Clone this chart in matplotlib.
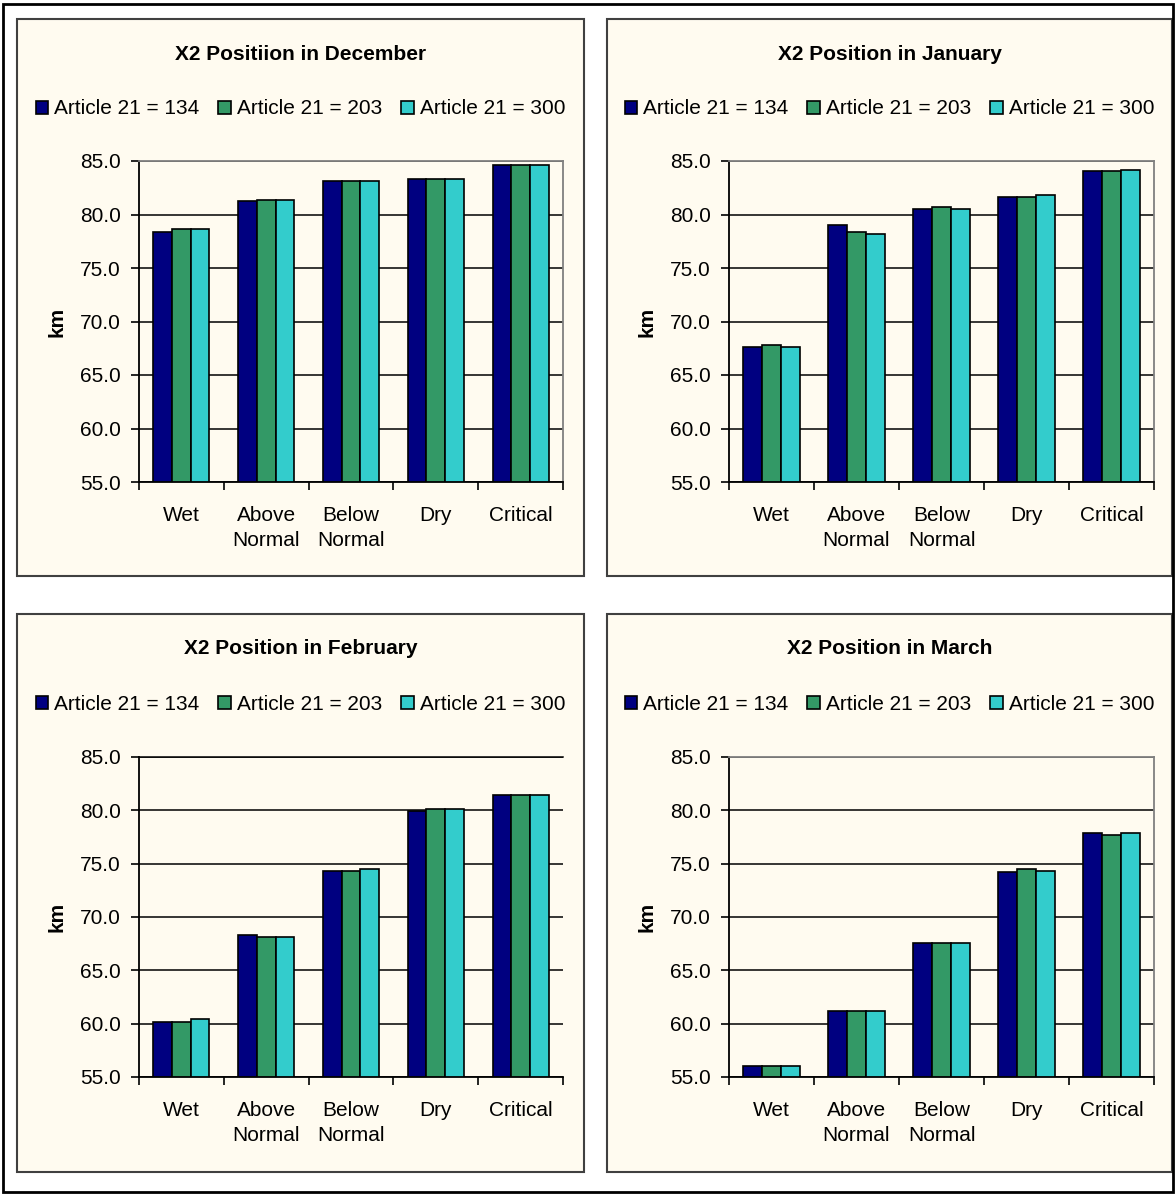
import matplotlib
matplotlib.use("Agg")
import matplotlib.pyplot as plt
from matplotlib.patches import Rectangle
from matplotlib.ticker import FormatStrFormatter
import numpy as np

plt.rcParams["font.family"] = ["Liberation Sans", "DejaVu Sans"]

# data
categories = ["Wet", "Above\nNormal", "Below\nNormal", "Dry", "Critical"]
series_names = ["Article 21 = 134", "Article 21 = 203", "Article 21 = 300"]
colors = ["#000080", "#339966", "#33CCCC"]

titles = ["X2 Positiion in December", "X2 Position in January",
          "X2 Position in February", "X2 Position in March"]

dec_134 = [78.4, 81.3, 83.1, 83.3, 84.6]
dec_203 = [78.6, 81.4, 83.1, 83.3, 84.6]
dec_300 = [78.6, 81.4, 83.1, 83.3, 84.6]

jan_134 = [67.6, 79.0, 80.5, 81.6, 84.1]
jan_203 = [67.8, 78.4, 80.7, 81.6, 84.1]
jan_300 = [67.6, 78.2, 80.5, 81.8, 84.2]

feb_134 = [60.2, 68.3, 74.3, 79.9, 81.4]
feb_203 = [60.2, 68.1, 74.3, 80.1, 81.4]
feb_300 = [60.4, 68.1, 74.5, 80.1, 81.4]

mar_134 = [56.0, 61.2, 67.6, 74.2, 77.9]
mar_203 = [56.0, 61.2, 67.6, 74.5, 77.7]
mar_300 = [56.0, 61.2, 67.6, 74.3, 77.9]

months = [[dec_134, dec_203, dec_300], [jan_134, jan_203, jan_300],
          [feb_134, feb_203, feb_300], [mar_134, mar_203, mar_300]]

y_ticks = [55, 60, 65, 70, 75, 80, 85]

W, H = 1175, 1195
cream = "#FFFBF0"

fig = plt.figure(figsize=(W / 100, H / 100), dpi=100)
fig.patch.set_facecolor("white")


def fig_rect(x0, y0, x1, y1):
    # pixel box (top-left origin) -> figure fraction rect
    return [x0 / W, 1 - y1 / H, (x1 - x0) / W, (y1 - y0) / H]


# panel boxes and plot areas in pixels
boxes = [(17, 19, 584, 576), (607, 19, 1172, 576),
         (17, 614, 584, 1172), (607, 614, 1172, 1172)]
plots = [(139, 161, 563, 482), (729, 161, 1154, 482),
         (139, 757, 563, 1077), (729, 757, 1154, 1077)]

x = np.arange(len(categories))
bw = 0.22

for i in range(4):
    bx0, by0, bx1, by1 = boxes[i]
    r = fig_rect(bx0, by0, bx1, by1)
    fig.add_artist(Rectangle((r[0], r[1]), r[2], r[3], transform=fig.transFigure,
                             facecolor=cream, edgecolor="#404040", lw=1.5, zorder=-5))

    ax = fig.add_axes(fig_rect(*plots[i]))
    ax.set_facecolor(cream)
    bars = []
    for k in range(3):
        b = ax.bar(x + (k - 1) * bw, months[i][k], bw, color=colors[k],
                   edgecolor="black", lw=1.2, label=series_names[k])
        bars.append(b)

    ax.set_xlim(-0.5, len(categories) - 0.5)
    ax.set_ylim(55, 85)
    ax.set_yticks(y_ticks)
    ax.yaxis.set_major_formatter(FormatStrFormatter("%.1f"))
    ax.yaxis.grid(True, color="black", lw=1.1)
    ax.set_axisbelow(True)
    ax.tick_params(axis="y", direction="out", length=6, width=1.2, pad=7, labelsize=15)

    ax.set_xticks(x)
    ax.set_xticklabels(categories, linespacing=1.45)
    ax.set_xticks(np.arange(-0.5, len(categories)), minor=True)
    ax.tick_params(axis="x", which="major", length=0, pad=17, labelsize=15)
    ax.tick_params(axis="x", which="minor", direction="out", length=6, width=1.2)

    for s in ["left", "bottom"]:
        ax.spines[s].set_color("black")
        ax.spines[s].set_linewidth(1.3)
    if i == 2:
        ax.spines["top"].set_color("black")
        ax.spines["top"].set_linewidth(1.1)
        ax.spines["right"].set_visible(False)
    else:
        for s in ["top", "right"]:
            ax.spines[s].set_color("#808080")
            ax.spines[s].set_linewidth(1.3)

    ax.set_ylabel("km", fontsize=15, fontweight="bold")
    ax.yaxis.set_label_coords(-0.17, 0.5)

    cx = (bx0 + bx1) / 2
    fig.text(cx / W, 1 - (by0 + 35) / H, titles[i], ha="center", va="center",
             fontsize=15, fontweight="bold")
    ax.legend(handles=bars, loc="center", bbox_to_anchor=(cx / W, 1 - (by0 + 90) / H),
              bbox_transform=fig.transFigure, ncol=3, frameon=False, fontsize=15,
              handlelength=0.6, handleheight=0.6, handletextpad=0.3,
              columnspacing=0.9, borderpad=0, borderaxespad=0)

# outer black border
fig.add_artist(Rectangle((3 / W, 3 / H), (W - 5) / W, (H - 7) / H, transform=fig.transFigure,
                         fill=False, edgecolor="black", lw=2, zorder=10))

fig.savefig("out.png", dpi=100, facecolor="white")
